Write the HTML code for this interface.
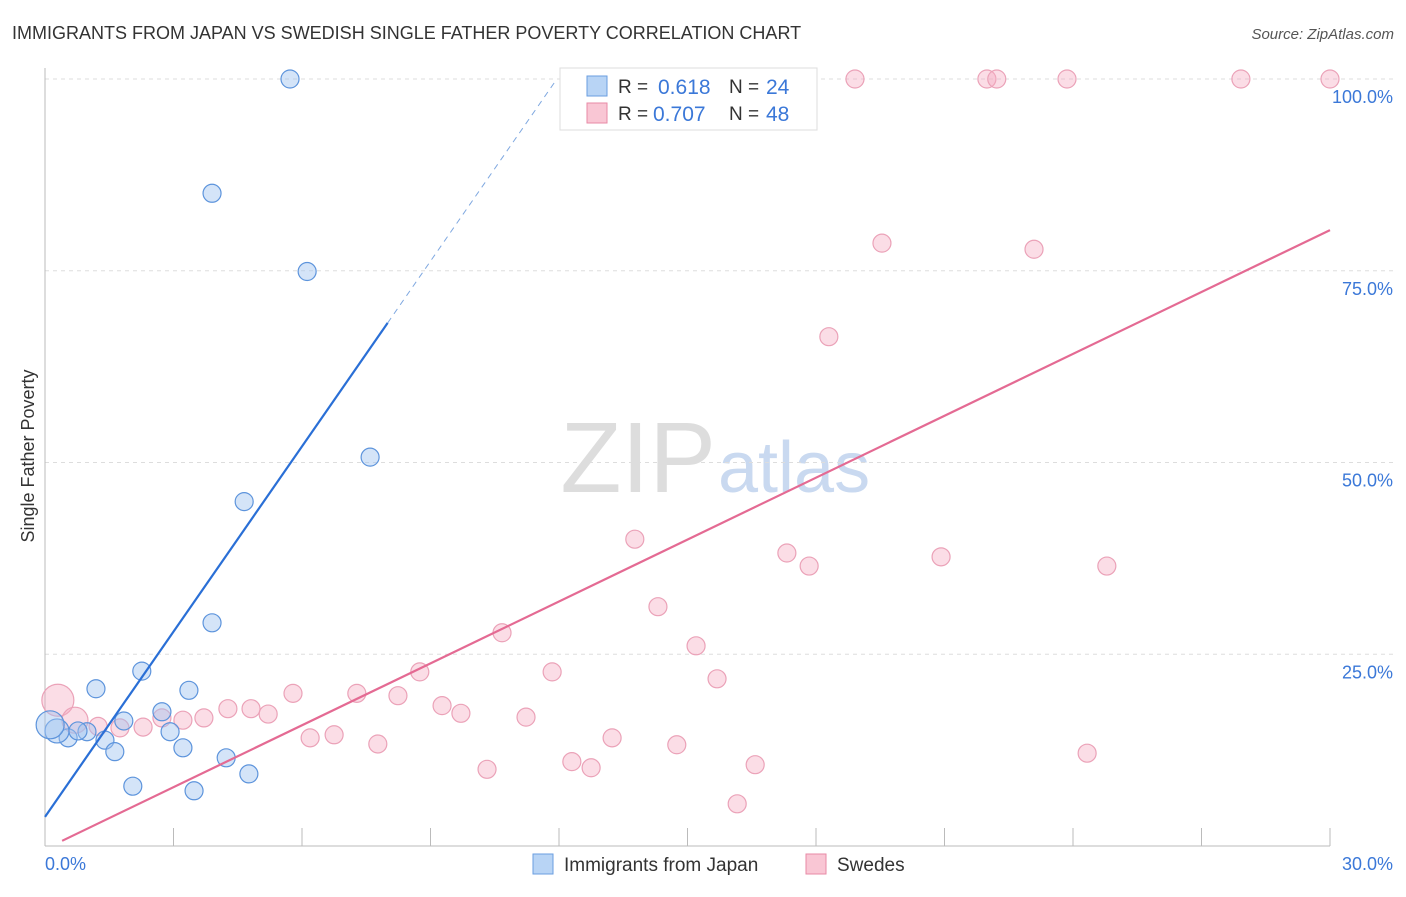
<!DOCTYPE html>
<html><head><meta charset="utf-8"><style>
body{margin:0;background:#fff;font-family:"Liberation Sans",sans-serif;}
svg text{font-family:"Liberation Sans",sans-serif;}
</style></head><body>
<svg id="chart" width="1406" height="892">
<text x="12" y="39" font-size="18" fill="#333">IMMIGRANTS FROM JAPAN VS SWEDISH SINGLE FATHER POVERTY CORRELATION CHART</text>
<text x="1394" y="39" font-size="15" fill="#555" font-style="italic" text-anchor="end">Source: ZipAtlas.com</text>
<text x="34" y="456" font-size="18" fill="#333" transform="rotate(-90 34 456)" text-anchor="middle">Single Father Poverty</text>
<g><text x="716" y="492" font-size="100" fill="#ddd" text-anchor="end" font-family="Liberation Serif">ZIP</text><text x="718" y="492" font-size="72" fill="#c9d9f0">atlas</text></g>
<g id="grid"></g><g id="axes"></g><g id="marks"></g>
<g>
<rect x="560" y="68" width="257" height="62" fill="#fff" stroke="#ddd"/>
<rect x="587" y="76" width="20" height="20" fill="#b8d4f5" stroke="#6a9ee0"/>
<text x="618" y="93" font-size="19" fill="#333">R =</text><text x="658" y="94" font-size="21" fill="#3b78d8">0.618</text>
<text x="729" y="93" font-size="19" fill="#333">N =</text><text x="766" y="94" font-size="21" fill="#3b78d8">24</text>
<rect x="587" y="103" width="20" height="20" fill="#f9c6d4" stroke="#e88aa6"/>
<text x="618" y="120" font-size="19" fill="#333">R =</text><text x="653" y="121" font-size="21" fill="#3b78d8">0.707</text>
<text x="729" y="120" font-size="19" fill="#333">N =</text><text x="766" y="121" font-size="21" fill="#3b78d8">48</text>
</g>
<g>
<rect x="533" y="854" width="20" height="20" fill="#b8d4f5" stroke="#6a9ee0"/>
<text x="564" y="871" font-size="19" fill="#333">Immigrants from Japan</text>
<rect x="806" y="854" width="20" height="20" fill="#f9c6d4" stroke="#e88aa6"/>
<text x="837" y="871" font-size="19" fill="#333">Swedes</text>
</g>
</svg>
<script>
const yTicks=[25,50,75,100];
const yTickLabels=["25.0%","50.0%","75.0%","100.0%"];
const xTickCount=10;
const blueX=[5.72,3.90,6.12,7.59,4.65,3.90,2.26,1.19,3.36,2.73,1.84,2.92,0.98,0.54,0.28,1.40,3.22,1.63,4.23,4.76,2.05,3.48,0.12,0.77];
const blueY=[100,85.1,74.9,50.7,44.9,29.1,22.8,20.5,20.3,17.5,16.3,14.9,14.9,14.1,15.0,13.8,12.8,12.3,11.5,9.4,7.8,7.2,15.8,15.0];
const blueR=[9,9,9,9,9,9,9,9,9,9,9,9,9,9,12,9,9,9,9,9,9,9,14,9];
const pinkX=[18.91,21.99,22.22,23.86,27.92,30.0,19.54,23.09,18.30,13.77,17.32,20.92,17.84,24.79,14.31,10.67,15.20,8.75,11.84,15.69,5.79,7.28,8.24,9.27,9.71,4.27,4.81,5.21,3.71,3.22,2.73,11.23,1.24,1.75,2.29,6.19,6.75,7.77,13.24,14.75,24.33,10.32,12.30,12.75,16.58,16.16,0.30,0.70];
const pinkY=[100,100,100,100,100,100,78.6,77.8,66.4,40.0,38.2,37.7,36.5,36.5,31.2,27.8,26.1,22.7,22.7,21.8,19.9,19.9,19.6,18.3,17.3,17.9,17.9,17.2,16.7,16.4,16.7,16.8,15.6,15.4,15.5,14.1,14.5,13.3,14.1,13.2,12.1,10.0,11.0,10.2,10.6,5.5,19.0,16.4];
const pinkR=[9,9,9,9,9,9,9,9,9,9,9,9,9,9,9,9,9,9,9,9,9,9,9,9,9,9,9,9,9,9,9,9,9,9,9,9,9,9,9,9,9,9,9,9,9,9,16,13];
const blueLine=[3.8,8.05];
const pinkLine=[-0.4,2.69];
const X=v=>45+v/30*1285, Y=v=>846-v/100*767;
const NS='http://www.w3.org/2000/svg';
function mk(tag,attrs,parent){const e=document.createElementNS(NS,tag);for(const k in attrs)e.setAttribute(k,attrs[k]);document.getElementById(parent).appendChild(e);return e;}
yTicks.forEach((t,i)=>{
 const g=mk('line',{x1:45,x2:1393,y1:Y(t),y2:Y(t),stroke:'#ddd','stroke-dasharray':'4,4'},'grid');
 
 
 const l=mk('text',{x:1393,y:Y(t)+24,'font-size':18,fill:'#3b78d8','text-anchor':'end'},'grid');
 l.textContent=yTickLabels[i];
 
 
});
mk('line',{x1:45,x2:45,y1:68,y2:846,stroke:'#bbb'},'axes');
mk('line',{x1:45,x2:1330,y1:846,y2:846,stroke:'#bbb'},'axes');
for(let i=1;i<=xTickCount;i++){const t=mk('line',{x1:X(i*3),x2:X(i*3),y1:828,y2:846,stroke:'#bbb'},'axes');
 
 }
const x0=mk('text',{x:45,y:870,'font-size':18,fill:'#3b78d8'},'axes');x0.textContent='0.0%';


const x1=mk('text',{x:1393,y:870,'font-size':18,fill:'#3b78d8','text-anchor':'end'},'axes');x1.textContent='30.0%';


pinkX.forEach((x,i)=>{const c=mk('circle',{cx:X(x),cy:Y(pinkY[i]),r:pinkR[i],fill:'rgba(246,170,193,0.4)',stroke:'#eba2b8','stroke-width':1.2},'marks');
 
 });
blueX.forEach((x,i)=>{const c=mk('circle',{cx:X(x),cy:Y(blueY[i]),r:blueR[i],fill:'rgba(160,196,240,0.45)',stroke:'#5d94dc','stroke-width':1.2},'marks');
 
 });
const bx1=8.0,bx2=(100-blueLine[0])/blueLine[1];
const bl=mk('line',{x1:X(0),y1:Y(blueLine[0]),x2:X(bx1),y2:Y(blueLine[0]+blueLine[1]*bx1),stroke:'#2a6fd6','stroke-width':2.2},'marks');


const bd=mk('line',{x1:X(bx1),y1:Y(blueLine[0]+blueLine[1]*bx1),x2:X(bx2),y2:Y(100),stroke:'#7fa8e0','stroke-width':1,'stroke-dasharray':'6,5'},'marks');


const pl=mk('line',{x1:X(0.4),y1:Y(pinkLine[0]+pinkLine[1]*0.4),x2:X(30),y2:Y(pinkLine[0]+pinkLine[1]*30),stroke:'#e46a93','stroke-width':2.2},'marks');


</script>
</body></html>
